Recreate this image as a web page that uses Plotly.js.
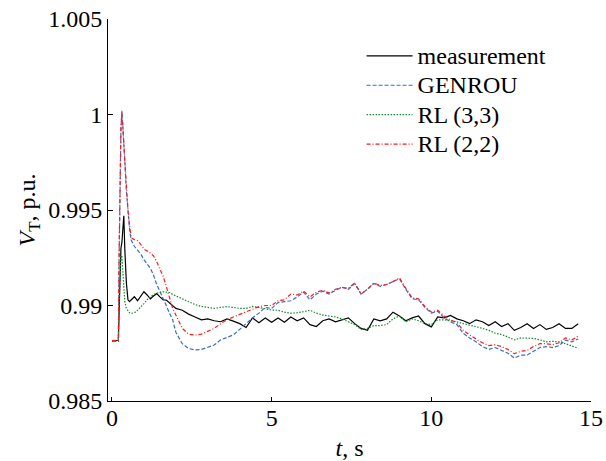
<!DOCTYPE html>
<html>
<head>
<meta charset="utf-8">
<script src="https://cdn.plot.ly/plotly-3.0.1.min.js"></script>
<style>html,body{margin:0;padding:0;background:#fff;}#chart{width:606px;height:461px;}</style>
</head>
<body>
<div id="chart"></div>
<script>
var tAll = [0, 0.1, 0.2, 0.22, 0.25, 0.28, 0.31, 0.34, 0.37, 0.4, 0.45, 0.5, 0.55, 0.6,
  0.7, 0.8, 0.9, 1.0, 1.1, 1.2, 1.3, 1.4, 1.5, 1.6, 1.7, 1.8, 1.9, 2.0,
  2.2, 2.4, 2.6, 2.8, 3.0, 3.2, 3.4, 3.6, 3.8, 4.0, 4.2, 4.4, 4.6, 4.8, 5.0,
  5.2, 5.4, 5.6, 5.8, 6.0, 6.2, 6.4, 6.6, 6.8, 7.0, 7.2, 7.4, 7.6, 7.8, 8.0,
  8.2, 8.4, 8.6, 8.8, 9.0, 9.2, 9.4, 9.6, 9.8, 10.0, 10.2, 10.4, 10.6, 10.8, 11.0,
  11.2, 11.4, 11.6, 11.8, 12.0, 12.2, 12.4, 12.6, 12.8, 13.0, 13.2, 13.4, 13.6, 13.8, 14.0,
  14.2, 14.4, 14.6];

var vMeasurement = [0.98816, 0.98816, 0.98818, 0.9895, 0.9915, 0.9930, 0.9933, 0.9940, 0.9947, 0.9930, 0.9912, 0.9903, 0.9902, 0.99029,
  0.99046, 0.99025, 0.99050, 0.99072, 0.99055, 0.99035, 0.99050, 0.99062, 0.99045, 0.99030, 0.99028, 0.99015, 0.99000, 0.98985,
  0.98975, 0.98955, 0.98940, 0.98925, 0.98930, 0.98920, 0.98915, 0.98930, 0.98918, 0.98905, 0.98885, 0.98935, 0.98910, 0.98935, 0.98912,
  0.98935, 0.98912, 0.98940, 0.98920, 0.98935, 0.98900, 0.98890, 0.98920, 0.98930, 0.98915, 0.98925, 0.98935, 0.98905, 0.98880, 0.98870,
  0.98930, 0.98920, 0.98930, 0.98965, 0.98945, 0.98920, 0.98935, 0.98945, 0.98905, 0.98888, 0.98940, 0.98935, 0.98948, 0.98930, 0.98920,
  0.98905, 0.98925, 0.98915, 0.98895, 0.98915, 0.98890, 0.98905, 0.98870, 0.98885, 0.98905, 0.98880, 0.98900, 0.98875, 0.98885, 0.98905,
  0.98880, 0.98880, 0.98905];

var vGenrou = [0.98812, 0.98812, 0.98814, 0.9920, 0.9970, 0.9992, 1.0002, 0.9995, 0.9985, 0.99762, 0.9960, 0.99483, 0.9940, 0.99343,
  0.99310, 0.99290, 0.99270, 0.99240, 0.99220, 0.99195, 0.99160, 0.99110, 0.99075, 0.99040, 0.99000, 0.98960, 0.98925, 0.98860,
  0.98800, 0.98775, 0.98767, 0.98770, 0.98780, 0.98793, 0.98820, 0.98835, 0.98846, 0.98875, 0.98907, 0.98935, 0.98960, 0.98990, 0.98985,
  0.99015, 0.99020, 0.99025, 0.99045, 0.99070, 0.99030, 0.99060, 0.99075, 0.99060, 0.99080, 0.99095, 0.99085, 0.99115, 0.99060, 0.99085,
  0.99115, 0.99100, 0.99110, 0.99125, 0.99140, 0.99085, 0.99035, 0.99030, 0.98990, 0.98960, 0.98970, 0.98935, 0.98915, 0.98900, 0.98854,
  0.98830, 0.98810, 0.98785, 0.98770, 0.98780, 0.98765, 0.98750, 0.98725, 0.98740, 0.98741, 0.98760, 0.98780, 0.98785, 0.98780, 0.98790,
  0.98819, 0.98810, 0.98825];

var vRL33 = [0.98812, 0.98812, 0.98814, 0.9900, 0.9918, 0.9927, 0.9926, 0.9918, 0.9908, 0.9902, 0.98985, 0.98970, 0.98962, 0.98959,
  0.98962, 0.98975, 0.98990, 0.99010, 0.99030, 0.99045, 0.99058, 0.99064, 0.99068, 0.99072, 0.99070, 0.99068, 0.99058, 0.99050,
  0.99035, 0.99020, 0.99005, 0.98995, 0.98990, 0.98985, 0.98990, 0.98994, 0.98990, 0.98985, 0.98985, 0.98995, 0.98990, 0.98985, 0.98976,
  0.98975, 0.98965, 0.98960, 0.98962, 0.98968, 0.98975, 0.98960, 0.98950, 0.98945, 0.98940, 0.98930, 0.98915, 0.98900, 0.98875, 0.98880,
  0.98895, 0.98895, 0.98900, 0.98930, 0.98945, 0.98915, 0.98930, 0.98920, 0.98905, 0.98900, 0.98925, 0.98925, 0.98920, 0.98915, 0.98905,
  0.98895, 0.98889, 0.98880, 0.98870, 0.98855, 0.98848, 0.98835, 0.98820, 0.98830, 0.98830, 0.98828, 0.98820, 0.98810, 0.98812, 0.98810,
  0.98800, 0.98790, 0.98776];

var vRL22 = [0.98816, 0.98816, 0.98818, 0.9925, 0.9970, 0.9993, 1.0001, 0.9995, 0.9985, 0.9976, 0.9960, 0.9950, 0.9942, 0.99355,
  0.99345, 0.99340, 0.99320, 0.99295, 0.99285, 0.99275, 0.99260, 0.99230, 0.99190, 0.99155, 0.99100, 0.99040, 0.98985, 0.98950,
  0.98880, 0.98850, 0.98845, 0.98850, 0.98865, 0.98880, 0.98905, 0.98925, 0.98940, 0.98955, 0.98967, 0.98980, 0.98994, 0.99000, 0.99000,
  0.99025, 0.99030, 0.99060, 0.99055, 0.99075, 0.99045, 0.99070, 0.99080, 0.99065, 0.99085, 0.99095, 0.99090, 0.99118, 0.99060, 0.99085,
  0.99118, 0.99105, 0.99110, 0.99125, 0.99145, 0.99090, 0.99040, 0.99035, 0.98995, 0.98965, 0.98975, 0.98945, 0.98925, 0.98910, 0.98870,
  0.98845, 0.98825, 0.98805, 0.98790, 0.98795, 0.98785, 0.98770, 0.98748, 0.98760, 0.98765, 0.98785, 0.98800, 0.98800, 0.98795, 0.98805,
  0.98830, 0.98820, 0.98840];

var seriesNames = ['measurement', 'GENROU', 'RL (3,3)', 'RL (2,2)'];
var xTicks = [0, 5, 10, 15];
var yTicks = [0.985, 0.99, 0.995, 1, 1.005];
var yTickText = ['0.985', '0.99', '0.995', '1', '1.005'];

var FONT = '"Liberation Serif", "Times New Roman", serif';

function legendName(s) { return '<span style="font-size:24px">' + s + '</span>'; }

var traces = [
  {x: tAll, y: vMeasurement, name: legendName(seriesNames[0]), legendgroup: 'a', line: {color: '#000000', width: 1.2, dash: 'solid'}},
  {x: tAll, y: vGenrou, name: legendName(seriesNames[1]), legendgroup: 'b', line: {color: '#3a6fc4', width: 1.2, dash: '4px,2px'}},
  {x: tAll, y: vRL33, name: legendName(seriesNames[2]), legendgroup: 'c', line: {color: '#118a2e', width: 1.2, dash: '1.5px,1.5px'}},
  {x: tAll, y: vRL22, name: legendName(seriesNames[3]), legendgroup: 'd', line: {color: '#ff1a1a', width: 1.2, dash: '4px,2px,1px,2px'}}
].map(function (tr) { tr.type = 'scatter'; tr.mode = 'lines'; return tr; });

var layout = {
  width: 606, height: 461,
  margin: {l: 108, r: 15, t: 19, b: 60},
  paper_bgcolor: '#fff', plot_bgcolor: '#fff',
  font: {family: FONT, size: 24, color: '#000'},
  showlegend: true,
  legend: {x: 0.525, y: 0.955, xanchor: 'left', yanchor: 'top', bgcolor: 'rgba(0,0,0,0)',
    font: {family: FONT, size: 20.3, color: '#000'}, traceorder: 'grouped', tracegroupgap: 0, itemwidth: 46},
  xaxis: {
    range: [-0.125, 15], tickvals: xTicks, ticktext: xTicks.map(String),
    showgrid: false, zeroline: false, showline: true, linecolor: '#000', linewidth: 1,
    ticks: 'inside', ticklen: 4, tickcolor: '#000', mirror: false,
    tickfont: {family: FONT, size: 24}, ticklabelstandoff: -5,
    title: {text: '<i>t</i>, s', font: {family: FONT, size: 24}, standoff: 16}
  },
  yaxis: {
    range: [0.985, 1.005], tickvals: yTicks, ticktext: yTickText,
    showgrid: false, zeroline: false, showline: true, linecolor: '#000', linewidth: 1,
    ticks: 'inside', ticklen: 5, tickcolor: '#000', mirror: false,
    tickfont: {family: FONT, size: 24},
    title: {text: '<i>V</i><sub>T</sub>, p.u.', font: {family: FONT, size: 24}, standoff: 5}
  }
};

Plotly.newPlot('chart', traces, layout, {displayModeBar: false, staticPlot: true});
</script>
</body>
</html>
